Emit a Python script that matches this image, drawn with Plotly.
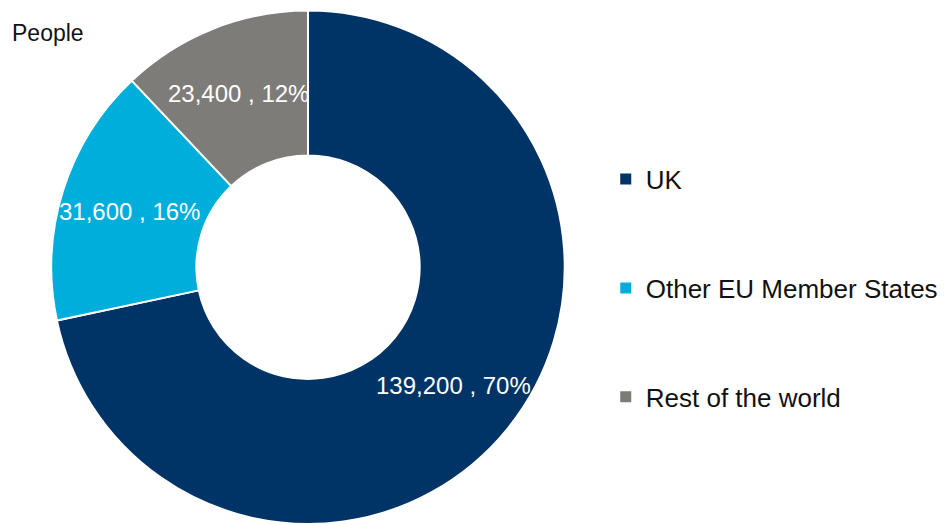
import math
import plotly.graph_objects as go

# Place of birth breakdown (people)
categories = ["UK", "Other EU Member States", "Rest of the world"]
people = [139200, 31600, 23400]
pct_labels = ["70%", "16%", "12%"]
colors = ["#003366", "#00AEDC", "#7D7C78"]

label_text = [f"{v:,} , {p}" for v, p in zip(people, pct_labels)]

W, H = 945, 524
dom_x = [0.0543, 0.5976]
dom_y = [0.0, 0.98]
hole = 0.435
FONT = "Liberation Sans, Arial, sans-serif"

fig = go.Figure()

fig.add_trace(go.Pie(
    labels=categories,
    values=people,
    textinfo="none",
    marker=dict(colors=colors, line=dict(color="white", width=2)),
    hole=hole,
    sort=False,
    direction="clockwise",
    rotation=0,
    showlegend=False,
    domain=dict(x=dom_x, y=dom_y),
    hoverinfo="label+value",
))

# Legend entries, one group each so they can be spaced apart
for name, col in zip(categories, colors):
    fig.add_trace(go.Scatter(
        x=[None], y=[None], mode="markers", name=name,
        legendgroup=name,
        marker=dict(symbol="square", size=11, color=col),
    ))

# Data labels sit at the mid-angle of each slice, in the middle of the ring
cx = (dom_x[0] + dom_x[1]) / 2 * W
cy = (dom_y[0] + dom_y[1]) / 2 * H
r_out = min((dom_x[1] - dom_x[0]) * W, (dom_y[1] - dom_y[0]) * H) / 2
r_lab = r_out * (1 + hole) / 2 + 3
total = sum(people)
annotations = []
cum = 0
for v, txt in zip(people, label_text):
    mid = (cum + v / 2) / total * 2 * math.pi
    cum += v
    px = cx + r_lab * math.sin(mid)
    py = cy + r_lab * math.cos(mid)
    annotations.append(dict(
        text=txt, x=px / W, y=py / H, xref="paper", yref="paper",
        xanchor="center", yanchor="middle", showarrow=False,
        font=dict(family=FONT, size=24, color="white"),
    ))

annotations.append(dict(
    text="People", x=10 / W, y=1 - 33 / H, xref="paper", yref="paper",
    xanchor="left", yanchor="middle", showarrow=False,
    font=dict(family=FONT, size=23, color="#111111"),
))

fig.update_layout(
    width=W, height=H,
    margin=dict(l=0, r=0, t=0, b=0),
    paper_bgcolor="white", plot_bgcolor="white",
    xaxis=dict(visible=False), yaxis=dict(visible=False),
    legend=dict(
        x=0.641, y=0.45, xanchor="left", yanchor="middle",
        font=dict(family=FONT, size=26, color="#111111"),
        tracegroupgap=72,
        itemwidth=30,
        bgcolor="rgba(0,0,0,0)",
    ),
    annotations=annotations,
)

fig.write_html("out.html")
